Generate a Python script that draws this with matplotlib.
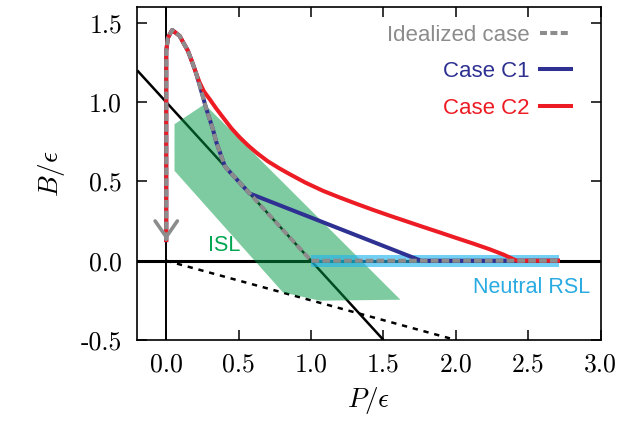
import matplotlib
matplotlib.use('Agg')
import matplotlib.pyplot as plt
from matplotlib.lines import Line2D

plt.rcParams['mathtext.fontset'] = 'cm'
plt.rcParams['axes.unicode_minus'] = False
plt.rcParams['lines.scale_dashes'] = False

# ---------------- data ----------------
# shared start of all trajectories (vertical rise, loop, steep descent)
head_P = [0.0, 0.0, 0.0, 0.012, 0.041, 0.092, 0.15, 0.184]
head_B = [0.13, 1.155, 1.323, 1.407, 1.455, 1.418, 1.323, 1.24]

# idealized case continues down onto B = eps - P, then along B = 0
ideal_P = [0.207, 0.242, 0.276, 0.322, 0.345, 0.403, 0.415, 0.576, 1.0, 2.705]
ideal_B = [1.18, 1.07, 0.96, 0.83, 0.75, 0.60, 0.584, 0.424, 0.0, 0.0]

# case C1 leaves the idealized path at the corner and goes straight to B = 0
c1_P = [0.207, 0.242, 0.276, 0.322, 0.345, 0.403, 0.415, 0.576, 1.76, 2.705]
c1_B = [1.18, 1.07, 0.96, 0.83, 0.75, 0.60, 0.584, 0.424, 0.0, 0.0]

# case C2 branches early and decays to B = 0
c2_P = [0.207, 0.23, 0.26, 0.299, 0.345, 0.391, 0.45, 0.507, 0.565, 0.622,
        0.70, 0.78, 0.852, 0.96, 1.082, 1.2, 1.313, 1.43, 1.543, 1.66,
        1.774, 1.89, 2.004, 2.12, 2.234, 2.33, 2.42, 2.705]
c2_B = [1.18, 1.125, 1.068, 1.02, 0.96, 0.905, 0.835, 0.778, 0.727, 0.682,
        0.628, 0.583, 0.546, 0.493, 0.441, 0.398, 0.359, 0.32, 0.284, 0.248,
        0.213, 0.178, 0.143, 0.108, 0.072, 0.038, 0.0, 0.0]

# reference lines
diag_P = [-0.2, 1.5]          # B = eps - P
diag_B = [1.2, -0.5]
dash_P = [0.0, 2.0]           # B = -P/4
dash_B = [0.0, -0.5]

# ISL region polygon
isl_P = [0.057, 0.057, 0.265, 1.617, 1.06, 0.806]
isl_B = [0.567, 0.861, 0.987, -0.246, -0.252, -0.2]

# neutral RSL band
rsl_P = [1.0, 2.71]
rsl_half = 0.038

arrow_tip = (0.0, 0.13)

xticks = [0.0, 0.5, 1.0, 1.5, 2.0, 2.5, 3.0]
yticks = [-0.5, 0.0, 0.5, 1.0, 1.5]
xticklabels = ['0.0', '0.5', '1.0', '1.5', '2.0', '2.5', '3.0']
yticklabels = ['-0.5', '0.0', '0.5', '1.0', '1.5']

# ---------------- colours ----------------
GRAY = '#8c8c8c'
BLUE = '#2e3192'
RED = '#ed1c24'
GREEN = '#00a651'
CYAN = '#29abe2'

fig = plt.figure(figsize=(6.22, 4.25), dpi=100)
ax = fig.add_axes([0.2207, 0.2, 0.7451, 0.7835])
ax.set_xlim(-0.2, 3.0)
ax.set_ylim(-0.5, 1.6)

# black reference lines
ax.axhline(0.0, color='black', lw=2.2, zorder=1)
ax.axvline(0.0, color='black', lw=1.4, zorder=1)
ax.plot(diag_P, diag_B, color='black', lw=1.8, zorder=1, solid_capstyle='butt')
ax.plot(dash_P, dash_B, color='black', lw=1.8, zorder=1,
        dashes=(3.8, 4.2))

# ISL region
ax.fill(isl_P, isl_B, color='#009944', alpha=0.5, lw=0, zorder=2)
# Neutral RSL band
ax.fill_between(rsl_P, [-rsl_half] * 2, [rsl_half] * 2,
                color='#1eb4f0', alpha=0.62, lw=0, zorder=3)

LW = 2.9
ax.plot(head_P + c1_P, head_B + c1_B, color=BLUE, lw=LW, zorder=4,
        solid_joinstyle='round')
ax.plot(head_P + c2_P, head_B + c2_B, color=RED, lw=LW, zorder=5,
        solid_joinstyle='round')
ax.plot(head_P + ideal_P, head_B + ideal_B, color=GRAY, lw=LW, zorder=6,
        dashes=(5.5, 2.3))

# arrow head at the bottom of the vertical branch
ax.annotate('', xy=arrow_tip, xytext=(arrow_tip[0], arrow_tip[1] + 0.01),
            arrowprops=dict(arrowstyle='->,head_length=1.15,head_width=0.8',
                            color=GRAY, lw=2.6, mutation_scale=10,
                            shrinkA=0, shrinkB=0),
            zorder=7)

# text labels
ax.text(0.40, 0.03, 'ISL', color=GREEN, fontsize=15.5,
        family='Liberation Sans', ha='center', va='bottom')
ax.text(2.925, -0.17, 'Neutral RSL', color=CYAN, fontsize=15.5,
        family='Liberation Sans', ha='right', va='center')

# legend
handles = [Line2D([], [], color=GRAY, lw=LW, dashes=(5.0, 2.5)),
           Line2D([], [], color=BLUE, lw=LW),
           Line2D([], [], color=RED, lw=LW)]
labels = ['Idealized case', 'Case C1', 'Case C2']
leg = ax.legend(handles, labels, loc='upper right', bbox_to_anchor=(0.936, 0.947),
                frameon=False, markerfirst=False, borderpad=0, borderaxespad=0,
                handlelength=1.4, handletextpad=0.45, labelspacing=0.7,
                prop={'family': 'Liberation Sans', 'size': 16})
for t, c in zip(leg.get_texts(), [GRAY, BLUE, RED]):
    t.set_color(c)

# ticks
ax.set_xticks(xticks)
ax.set_yticks(yticks)
ax.set_xticklabels(xticklabels, family='cmr10', fontsize=18.5)
ax.set_yticklabels(yticklabels, family='cmr10', fontsize=18.5)
ax.tick_params(direction='in', length=7, width=1.1, top=True, right=True)
ax.tick_params(axis='x', pad=9)
ax.tick_params(axis='y', pad=11)
for s in ax.spines.values():
    s.set_linewidth(1.2)

ax.set_xlabel(r'$P/\epsilon$', fontsize=19.5, labelpad=6)
ax.set_ylabel(r'$B/\epsilon$', fontsize=19.5, labelpad=10)

fig.savefig('out.png', dpi=100)
